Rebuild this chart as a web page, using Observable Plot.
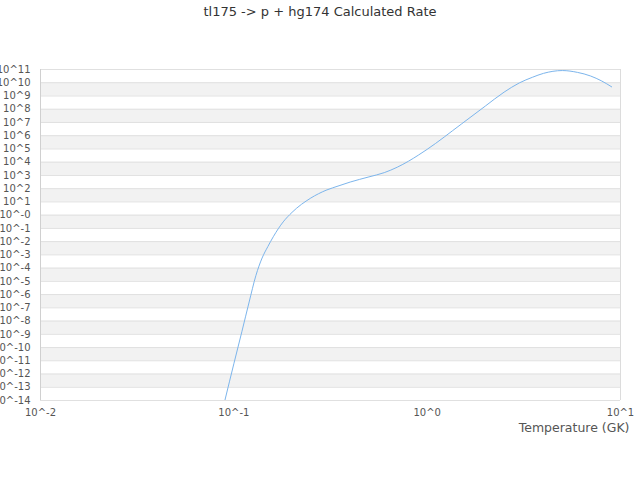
<!DOCTYPE html>
<html>
<head>
<meta charset="utf-8">
<script src="https://cdn.jsdelivr.net/npm/d3@7"></script>
<script src="https://cdn.jsdelivr.net/npm/@observablehq/plot@0.6"></script>
<style>
  body { margin: 0; background: #fff; font-family: "DejaVu Sans", sans-serif; }
  #title { width: 640px; height: 24px; line-height: 24px; text-align: center; font-size: 13px; color: #333; }
</style>
</head>
<body>
<div id="title">tl175 -&gt; p + hg174 Calculated Rate</div>
<div id="chart"></div>
<script>
// Temperature (GK)
const temperature = [0.09, 0.1, 0.11, 0.12, 0.13, 0.14, 0.15, 0.16, 0.18, 0.2, 0.25, 0.3, 0.35, 0.4, 0.5, 0.6, 0.7, 0.8, 0.9, 1, 1.5, 2, 2.5, 3, 3.5, 4, 5, 6, 7, 8, 9];
// log10 of calculated rate
const logRate = [-13.96, -11.23, -8.81, -6.56, -4.57, -3.24, -2.37, -1.63, -0.51, 0.21, 1.29, 1.88, 2.22, 2.50, 2.89, 3.21, 3.62, 4.07, 4.53, 4.97, 6.87, 8.24, 9.29, 9.99, 10.41, 10.71, 10.92, 10.78, 10.51, 10.13, 9.69];
const yExponents = d3.range(-14, 12); // -14 .. 11
const xExponents = [-2, -1, 0, 1];

const data = temperature.map((t, i) => ({t, r: Math.pow(10, logRate[i])}));
const bands = yExponents.filter(e => e % 2 === 0 && e > -14).map(e => ({y1: Math.pow(10, e - 1), y2: Math.pow(10, e)}));
const yLabel = e => "10^" + (e > 0 ? e : "-" + (-e));
const xLabel = e => "10^" + e;

const chart = Plot.plot({
  width: 640,
  height: 456,
  marginTop: 45,
  marginBottom: 80,
  marginLeft: 40,
  marginRight: 20,
  style: {fontFamily: "DejaVu Sans", fontSize: "10px", color: "#555", background: "#fff"},
  x: {type: "log", domain: [0.01, 10]},
  y: {type: "log", domain: [1e-14, 1e11]},
  marks: [
    Plot.rect(bands, {x1: 0.01, x2: 10, y1: "y1", y2: "y2", fill: "#f2f2f2"}),
    Plot.ruleY(yExponents.map(e => Math.pow(10, e)), {stroke: "#e0e0e0", strokeWidth: 1}),
    Plot.ruleX([10], {stroke: "#dcdcdc"}),
    Plot.ruleX([0.01], {stroke: "#d0d0d0"}),
    Plot.line(data, {x: "t", y: "r", stroke: "#7cb5ec", strokeWidth: 1, curve: "monotone-x", clip: true}),
    Plot.axisY(yExponents.map(e => Math.pow(10, e)), {tickSize: 0, tickPadding: 10, tickFormat: v => yLabel(Math.round(Math.log10(v))), label: null, fill: "#555"}),
    Plot.axisX(xExponents.map(e => Math.pow(10, e)), {tickSize: 0, tickPadding: 8, tickFormat: v => xLabel(Math.round(Math.log10(v))), label: null, fill: "#555"}),
    Plot.text(["Temperature (GK)"], {frameAnchor: "bottom-right", dy: 31, dx: 9, textAnchor: "end", fontSize: 12.5, fill: "#555"})
  ]
});
document.getElementById("chart").appendChild(chart);
</script>
</body>
</html>
